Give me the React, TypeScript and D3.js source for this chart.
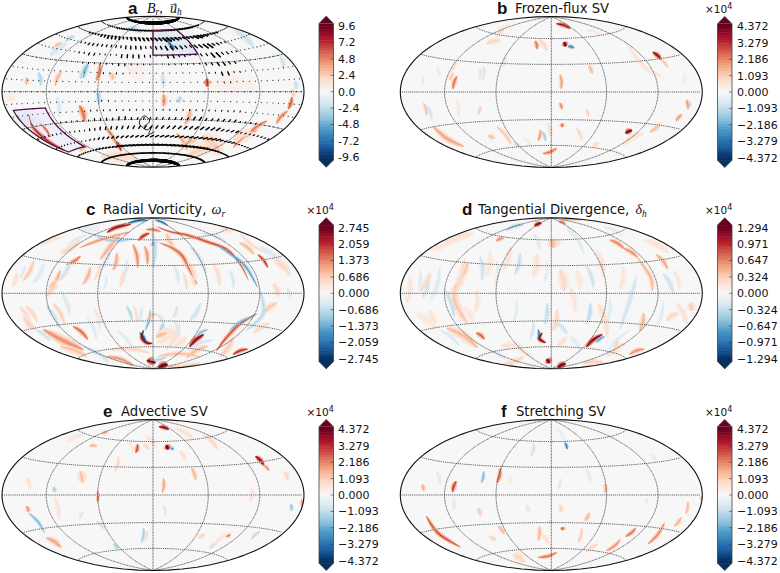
import React from "react";
import * as d3 from "d3";

// Streak tuple: [value (-1..1), width, x1, y1, x2, y2, ...] in digitised map units of each panel
type Streak = number[];

const aStreaks: Streak[] = [
  [-0.12, 24, 462, 100, 530, 125, 585, 158], [-0.82, 4.5, 498, 110, 510, 130, 524, 148], [-0.45, 5, 250, 235, 265, 190], [-0.3, 4, 248, 210, 240, 236],
  [-0.32, 4, 115, 215, 122, 258], [-0.28, 4, 195, 124, 225, 108], [-0.18, 6, 150, 168, 200, 130], [-0.35, 4, 380, 84, 424, 98],
  [-0.22, 6, 700, 88, 762, 142], [-0.22, 4, 840, 168, 852, 208], [-0.25, 4, 885, 242, 888, 268], [-0.1, 16, 50, 120, 120, 88], [-0.1, 14, 680, 70, 760, 110],
  [0.55, 4, 300, 188, 288, 242], [0.3, 6, 335, 218, 337, 240], [0.35, 4, 165, 258, 186, 212], [0.35, 4, 80, 232, 78, 254],
  [0.35, 3, 163, 140, 186, 129], [0.7, 5, 620, 235, 620, 260], [0.45, 5, 490, 282, 490, 320], [0.55, 6, 238, 316, 254, 364],
  [0.4, 5, 572, 326, 554, 374], [0.06, 18, 630, 258, 770, 258], [-0.3, 5, 540, 288, 535, 308], [-0.25, 4, 485, 222, 490, 264],
  [-0.35, 4, 290, 268, 296, 314], [-0.18, 4, 170, 288, 176, 352], [0.06, 14, 380, 200, 430, 240], [-0.08, 14, 40, 345, 130, 385],
  [0.8, 3.5, 85, 342, 100, 382, 140, 420, 198, 454], [0.65, 2.5, 118, 370, 152, 412], [0.62, 4, 876, 290, 864, 328], [0.25, 5, 875, 266, 880, 292],
  [0.75, 4, 346, 424, 364, 454], [0.45, 4, 316, 384, 348, 432], [0.38, 4, 528, 398, 562, 452], [0.24, 14, 606, 406, 664, 464],
  [0.55, 4, 738, 412, 802, 362], [0.45, 4, 698, 444, 772, 390], [0.5, 4, 828, 372, 864, 332], [0.3, 5, 238, 454, 264, 438],
  [0.3, 6, 540, 444, 592, 418], [0.18, 10, 300, 470, 420, 485], [0.24, 10, 560, 472, 644, 438], [0.2, 10, 700, 422, 764, 398], [0.1, 8, 14, 288, 44, 302],
];

const bStreaks: Streak[] = [
  [0.98, 5, 521, 126, 527, 140], [-0.65, 3.5, 533, 139, 553, 144], [0.85, 3.5, 498, 71, 542, 86], [0.92, 4, 788, 156, 814, 180], [0.3, 3, 812, 178, 834, 204],
  [0.55, 4, 436, 122, 441, 148], [0.22, 4, 446, 118, 472, 152], [0.98, 4.5, 706, 400, 727, 391], [0.55, 4, 189, 268, 201, 228], [0.2, 3, 281, 198, 278, 240],
  [-0.18, 3, 270, 203, 268, 242], [0.16, 3, 345, 168, 340, 202], [0.22, 4, 320, 112, 342, 88], [0.22, 5, 288, 131, 332, 121], [0.42, 3.5, 510, 222, 513, 268],
  [0.35, 3.5, 596, 196, 607, 222], [0.48, 3.5, 509, 308, 516, 328], [0.55, 4.5, 515, 370, 516, 382], [0.32, 3, 100, 308, 110, 348], [-0.22, 3, 107, 313, 127, 362],
  [0.4, 5, 128, 378, 170, 415, 224, 441], [0.45, 3, 451, 388, 444, 424], [-0.35, 3, 456, 393, 467, 424], [0.16, 4, 472, 368, 483, 412],
  [0.55, 3.5, 502, 444, 458, 461], [0.45, 3.5, 889, 298, 894, 328], [-0.28, 3, 898, 303, 898, 322], [0.45, 3.5, 858, 364, 877, 343], [0.15, 6, 698, 436, 762, 398],
  [0.28, 3, 271, 318, 264, 344], [0.28, 4, 320, 380, 364, 434], [0.32, 4, 294, 407, 314, 417], [0.22, 4, 608, 442, 627, 429], [0.16, 3, 184, 217, 203, 188],
  [0.16, 3, 100, 228, 96, 252], [0.13, 4, 700, 118, 762, 200, 822, 233], [0.28, 4, 180, 242, 191, 218], [0.22, 3, 559, 383, 576, 422], [0.24, 3, 589, 328, 596, 352], [0.32, 4, 812, 368, 778, 397],
  [0.12, 3, 590, 90, 640, 110], [0.12, 3, 360, 70, 320, 85], [-0.14, 3, 140, 200, 150, 230], [0.14, 3, 200, 300, 205, 350], [0.12, 3, 400, 410, 430, 450], [-0.2, 3, 370, 425, 385, 445], [0.12, 3, 880, 220, 885, 250],
];

const cStreaks: Streak[] = [
  [0.88, 3.5, 320, 128, 350, 112, 394, 103], [-0.75, 3, 384, 101, 444, 91], [-0.65, 2.5, 465, 91, 504, 107], [0.66, 3, 468, 109, 510, 125, 560, 135, 620, 155, 680, 178, 720, 222, 747, 274],
  [-0.55, 3, 648, 164, 730, 222, 774, 294], [0.78, 3.5, 414, 152, 449, 129], [0.55, 3.5, 438, 119, 482, 125], [0.48, 4, 399, 162, 413, 234], [0.45, 4, 434, 168, 442, 224],
  [0.58, 4, 478, 158, 520, 176, 550, 202, 575, 252, 592, 284], [-0.48, 7, 457, 156, 463, 166], [-0.28, 3.5, 455, 118, 460, 234], [0.4, 4, 351, 188, 339, 242], [0.36, 4, 271, 230, 249, 284],
  [0.55, 4, 242, 198, 198, 224], [0.38, 4, 182, 240, 148, 294], [-0.22, 4, 212, 208, 178, 272], [0.28, 4, 102, 210, 68, 274], [-0.16, 4, 132, 218, 98, 282], [0.75, 3, 773, 193, 804, 234],
  [0.34, 4, 718, 158, 764, 194], [0.98, 3.5, 431, 420, 425, 442, 440, 458, 458, 460], [-0.95, 3, 419, 428, 437, 458], [-0.45, 3, 451, 358, 435, 422], [-0.34, 4, 491, 398, 479, 422],
  [0.32, 7, 468, 443, 502, 429], [0.92, 5, 568, 472, 612, 433], [-0.45, 3, 588, 440, 624, 418], [0.65, 3.5, 648, 484, 680, 442, 720, 402, 772, 370], [-0.48, 3, 688, 422, 764, 378],
  [0.98, 6, 440, 512, 467, 519], [1, 6, 475, 533, 504, 524], [0.75, 3.5, 698, 494, 744, 477], [0.46, 7, 128, 418, 190, 452, 252, 480], [0.58, 4, 218, 408, 264, 449], [-0.22, 4, 108, 420, 152, 454],
  [0.45, 4, 318, 499, 402, 527], [0.22, 4, 328, 480, 452, 490], [0.32, 5, 558, 504, 624, 468], [0.25, 4, 158, 338, 194, 404], [-0.22, 4, 138, 348, 178, 414], [-0.08, 14, 238, 115, 300, 125],
  [-0.38, 3.5, 288, 140, 340, 152, 402, 146], [0.45, 3, 238, 174, 300, 150, 392, 125], [-0.22, 4, 602, 338, 568, 394], [-0.22, 3, 531, 348, 519, 384], [0.16, 8, 478, 420, 542, 440],
  [0.28, 5, 788, 372, 832, 338], [0.22, 4, 78, 348, 112, 397], [0.22, 6, 862, 242, 818, 188], [-0.32, 3, 502, 500, 448, 511], [-0.32, 3, 379, 348, 396, 392], [0.16, 6, 702, 122, 658, 108], [-0.28, 4, 780, 298, 790, 370, 738, 422],
  [0.2, 4, 370, 240, 360, 290], [-0.2, 3, 380, 210, 372, 260], [0.2, 4, 300, 220, 285, 270], [-0.14, 3, 320, 260, 310, 300], [0.22, 3, 550, 250, 560, 300], [-0.18, 3, 520, 220, 535, 285], [0.2, 4, 640, 220, 660, 290], [-0.2, 3, 690, 240, 700, 295],
  [0.18, 4, 50, 250, 38, 290], [-0.15, 3, 75, 225, 60, 265], [0.22, 5, 820, 280, 835, 320], [-0.16, 3, 860, 290, 870, 330], [0.2, 4, 60, 350, 90, 400], [0.18, 3, 400, 345, 410, 400], [-0.18, 3, 425, 350, 415, 395], [0.2, 4, 540, 400, 500, 480], [0.16, 6, 560, 440, 520, 470], [-0.16, 3, 350, 420, 400, 480],
  [0.14, 4, 120, 170, 190, 140], [-0.16, 3, 200, 170, 260, 135], [0.2, 3, 800, 190, 720, 130], [-0.18, 3, 600, 130, 680, 155], [0.15, 3, 280, 350, 300, 420], [-0.16, 3, 260, 380, 290, 450], [0.3, 4, 470, 500, 600, 500], [-0.2, 3, 560, 480, 640, 450],
  [0.25, 6, 170, 260, 140, 320], [-0.16, 4, 180, 300, 210, 380], [0.22, 6, 560, 210, 585, 290], [-0.2, 4, 570, 170, 620, 250], [0.3, 5, 520, 170, 500, 130], [0.35, 5, 365, 130, 330, 170, 300, 210], [-0.18, 4, 330, 180, 300, 240], [0.22, 5, 240, 150, 180, 190],
  [-0.16, 5, 780, 170, 840, 220], [0.2, 5, 840, 210, 870, 260], [0.25, 5, 110, 420, 70, 380], [0.3, 6, 180, 470, 260, 500], [-0.2, 4, 250, 470, 330, 520], [0.3, 5, 600, 520, 500, 530], [0.25, 6, 700, 440, 660, 500], [0.2, 5, 760, 430, 810, 400], [0.3, 4, 440, 390, 470, 370], [-0.2, 3, 470, 370, 495, 410], [-0.18, 3, 520, 390, 540, 440], [0.14, 8, 470, 460, 530, 440],
];

const dStreaks: Streak[] = [
  [0.92, 4, 433, 108, 455, 99], [-0.34, 3.5, 348, 121, 402, 104], [0.55, 3, 506, 94, 527, 102], [0.46, 3, 518, 90, 574, 90], [0.46, 4, 318, 153, 342, 144], [0.5, 4, 658, 149, 704, 177],
  [0.46, 4, 700, 175, 744, 203], [0.34, 4, 740, 200, 782, 262, 787, 304], [0.4, 4, 798, 193, 834, 238], [0.98, 3.5, 457, 428, 448, 446, 468, 459], [-0.78, 2.5, 445, 418, 445, 448],
  [0.95, 4, 588, 472, 638, 433], [-0.55, 3, 618, 458, 644, 439], [0.95, 6, 469, 508, 479, 520], [0.98, 5, 503, 533, 528, 521], [0.46, 4, 718, 493, 764, 477], [0.6, 4, 258, 428, 284, 448],
  [0.32, 7, 168, 413, 264, 474], [0.28, 7, 200, 278, 194, 332, 234, 404], [0.28, 5, 234, 218, 204, 274], [-0.25, 4, 164, 298, 193, 384], [-0.22, 4, 116, 258, 99, 324], [-0.25, 4, 391, 188, 374, 254],
  [-0.22, 4, 270, 198, 276, 274], [0.3, 10, 485, 148, 490, 174], [0.2, 8, 510, 238, 522, 304], [0.16, 6, 440, 188, 429, 264], [-0.22, 4, 589, 228, 611, 294], [-0.28, 4, 601, 338, 589, 404],
  [-0.25, 4, 471, 338, 464, 404], [0.22, 5, 501, 358, 489, 424], [0.34, 5, 761, 368, 749, 424], [0.22, 7, 681, 448, 669, 494], [0.16, 5, 859, 338, 891, 404], [0.24, 7, 900, 338, 905, 364],
  [0.22, 5, 828, 393, 864, 369], [0.22, 5, 121, 248, 89, 304], [-0.22, 4, 819, 250, 851, 312], [0.16, 7, 148, 174, 252, 130], [0.22, 5, 402, 500, 338, 523], [0.24, 5, 578, 520, 644, 520],
  [-0.16, 3, 429, 128, 451, 182], [-0.16, 3, 539, 118, 581, 192], [0.16, 5, 361, 168, 339, 242], [0.15, 5, 619, 178, 641, 262], [-0.22, 4, 498, 398, 532, 432], [-0.2, 4, 740, 258, 720, 330, 688, 422],
  [0.14, 5, 60, 260, 50, 340], [-0.15, 3, 90, 240, 85, 300], [0.14, 5, 260, 300, 255, 370], [-0.14, 3, 380, 330, 370, 400], [0.14, 5, 540, 290, 555, 370], [-0.14, 3, 660, 320, 650, 400], [0.14, 4, 850, 240, 870, 300],
  [-0.2, 3, 430, 390, 420, 450], [0.18, 5, 530, 440, 500, 470], [-0.18, 3, 150, 420, 210, 470], [0.14, 6, 140, 400, 120, 360], [-0.15, 3, 650, 490, 720, 420], [0.15, 4, 430, 500, 380, 470], [-0.15, 3, 560, 140, 530, 110],
  [0.2, 6, 225, 205, 180, 330], [-0.15, 4, 150, 230, 122, 330], [0.18, 6, 625, 340, 652, 440], [0.12, 6, 300, 180, 290, 260], [0.14, 5, 700, 230, 690, 300], [-0.12, 3, 320, 210, 315, 290], [0.12, 6, 560, 240, 570, 300], [-0.12, 3, 470, 210, 462, 280], [0.12, 6, 220, 350, 250, 400], [-0.14, 3, 820, 330, 800, 410],
  [0.12, 7, 80, 370, 140, 420], [0.14, 6, 760, 150, 840, 190], [-0.12, 3, 640, 110, 700, 140], [0.12, 6, 180, 150, 120, 180], [-0.14, 4, 540, 440, 570, 480], [0.15, 6, 330, 470, 400, 470], [-0.13, 3, 300, 480, 350, 510], [0.14, 6, 650, 500, 710, 460],
];

const eStreaks: Streak[] = [
  [0.95, 3.5, 476, 125, 507, 134], [1, 5.5, 498, 180, 504, 194], [-0.55, 3.5, 510, 189, 522, 194], [0.95, 4, 766, 213, 792, 242], [0.45, 3, 788, 238, 808, 258], [0.65, 4, 413, 177, 407, 204],
  [0.22, 4, 429, 178, 447, 192], [0.22, 3, 356, 213, 344, 262], [0.34, 4, 574, 248, 587, 287], [0.4, 3.5, 490, 278, 487, 324], [0.28, 7, 239, 258, 247, 294], [0.34, 4, 268, 183, 292, 184],
  [0.34, 3.5, 306, 147, 324, 141], [0.55, 3, 292, 318, 292, 352], [-0.34, 4, 160, 306, 165, 322], [0.16, 4, 164, 338, 177, 404], [0.45, 4, 79, 363, 86, 382], [-0.45, 3, 85, 383, 134, 444],
  [0.4, 5, 138, 458, 184, 488], [-0.36, 3, 431, 428, 424, 474], [0.22, 3, 441, 438, 434, 468], [0.55, 4, 678, 456, 692, 448], [0.22, 4, 593, 459, 617, 449], [-0.22, 3, 628, 492, 652, 473],
  [-0.28, 3, 753, 464, 782, 438], [-0.38, 3.5, 872, 356, 874, 378], [0.45, 3.5, 905, 343, 905, 368], [-0.34, 3, 339, 476, 353, 494], [0.22, 4, 608, 148, 654, 194], [0.16, 4, 518, 128, 584, 164],
  [-0.16, 3, 239, 404, 251, 378], [-0.22, 3, 288, 408, 314, 434], [0.16, 4, 79, 278, 91, 312], [0.22, 4, 854, 258, 863, 287], [0.16, 4, 756, 308, 751, 352], [0.16, 4, 539, 198, 556, 227], [-0.16, 3, 489, 358, 496, 392],
  [0.14, 4, 435, 150, 470, 190], [0.12, 3, 380, 160, 400, 210], [0.12, 5, 200, 170, 250, 150], [0.12, 4, 640, 480, 700, 440],
];

const fStreaks: Streak[] = [
  [-0.68, 3, 524, 172, 532, 193], [-0.22, 3, 431, 173, 424, 214], [0.56, 4, 331, 248, 321, 294], [-0.46, 3, 281, 258, 274, 294], [0.7, 4, 188, 322, 199, 288], [0.38, 4, 96, 298, 101, 318],
  [0.66, 3.5, 108, 392, 145, 445, 214, 488], [0.34, 4, 645, 296, 645, 324], [-0.14, 3, 511, 278, 504, 314], [0.12, 4, 360, 276, 362, 294], [0.28, 4, 264, 368, 271, 394], [0.34, 4, 324, 423, 343, 448],
  [0.22, 4, 298, 454, 318, 467], [0.34, 4, 448, 423, 444, 468], [0.6, 5, 516, 426, 518, 436], [0.22, 4, 480, 406, 480, 416], [0.34, 4, 598, 383, 584, 408], [0.28, 3, 576, 428, 564, 474],
  [0.55, 3.5, 502, 502, 443, 517], [0.56, 3.5, 738, 428, 706, 455], [0.46, 3.5, 692, 463, 648, 498], [0.5, 3.5, 824, 413, 773, 478], [0.34, 4, 874, 396, 853, 424], [0.34, 3, 894, 348, 887, 388],
  [0.34, 4, 934, 333, 934, 347], [0.22, 4, 588, 502, 624, 478], [0.22, 7, 368, 508, 404, 532], [-0.12, 3, 770, 338, 768, 357], [-0.16, 3, 190, 338, 191, 374], [-0.14, 3, 589, 248, 601, 294],
  [-0.14, 3, 139, 258, 151, 302], [-0.12, 3, 778, 208, 802, 232], [0.16, 4, 409, 358, 416, 382], [0.22, 4, 509, 358, 515, 382], [-0.12, 3, 498, 128, 527, 172], [0.16, 4, 453, 448, 477, 477],
];

// Surface flow: one row of speed per latitude, one column per 15° of longitude from -180
const flowLats = [80, 70, 60, 50, 40, 30, 20, 10, 0, -10, -20, -30, -40, -50, -60, -70, -80];
const flowSpeed = [
  [3, 3, 3, 3, 4, 4, 5, 6, 7, 8, 9, 9, 9, 9, 9, 8, 7, 6, 5, 4, 4, 3, 3, 3],
  [0, 0, 0, 1, 1, 2, 2, 2, 2, 2, 2, 2, 2, 2, 2, 2, 2, 2, 2, 1, 1, 0, 0, 0],
  [0, 0, 0, 1, 1, 2, 3, 3, 2, 3, 3, 3, 3, 4, 3, 2, 2, 3, 2, 1, 1, 0, 0, 0],
  [0, 0, 0, 0, 1, 2, 2, 2, 2, 3, 3, 2, 3, 4, 3, 2, 3, 4, 2, 1, 0, 0, 0, 0],
  [0, 0, 0, 0, 0, 1, 2, 1, 1, 3, 3, 2, 1, 3, 2, 1, 2, 4, 2, 1, 0, 0, 0, 0],
  [0, 0, 0, 0, 0, 0, 1, 1, 1, 2, 1, 1, 0, 1, 1, 1, 2, 3, 2, 0, 0, 0, 0, 0],
  [0, 0, 0, 0, 0, 0, 0, 0, 1, 1, 0, 0, 0, 0, 0, 0, 1, 3, 1, 0, 0, 0, 0, 0],
  [0, 0, 0, 0, 0, 0, 0, 0, 0, 0, 0, 0, 0, 0, 0, 0, 0, 1, 0, 0, 0, 0, 0, 0],
  [0, 0, 0, 0, 0, 0, 0, 0, 0, 0, 0, 0, 0, 0, 0, 0, 0, 0, 0, 0, 0, 0, 0, 0],
  [0, 0, 0, 0, 0, 0, 0, 0, 1, 0, 0, 0, 0, 0, 0, 0, 0, 0, 0, 0, 0, 0, 0, 0],
  [0, 0, 0, 0, 0, 0, 0, 1, 1, 1, 1, 1, 1, 1, 1, 1, 1, 1, 1, 0, 0, 0, 0, 0],
  [0, 0, 0, 0, 1, 1, 1, 2, 2, 3, 2, 2, 2, 2, 2, 3, 2, 2, 2, 1, 1, 0, 0, 0],
  [1, 1, 1, 1, 1, 1, 2, 3, 3, 3, 3, 3, 3, 3, 3, 3, 3, 3, 2, 2, 1, 1, 1, 1],
  [1, 1, 1, 1, 1, 2, 3, 3, 3, 3, 3, 3, 3, 3, 3, 3, 3, 3, 3, 2, 2, 1, 1, 1],
  [1, 1, 1, 1, 2, 2, 2, 3, 3, 3, 3, 3, 3, 3, 3, 3, 3, 3, 3, 2, 2, 1, 1, 1],
  [2, 2, 2, 2, 2, 2, 2, 2, 2, 2, 2, 2, 2, 2, 2, 2, 2, 2, 2, 2, 2, 2, 2, 2],
  [5, 5, 5, 5, 5, 6, 6, 7, 8, 9, 9, 9, 9, 9, 9, 9, 8, 7, 6, 6, 5, 5, 5, 5],
];
const flowAngle = [0, 20, 55, 72, 80, 80, 85, 85, 85, 85, 80, 70, 55, 30, 14, 3, 0];
const flowLonStep = 7.5;
const swirlLine = [[-12, -38], [-4, -32], [-10, -26], [-17, -34], [-8, -42], [-2, -38], [-6, -47], [2, -44]];

const boxNorth = { lon: [0, 60], lat: [40, 70] };
const boxSouth = { lon: [-170, -125], lat: [-55, -15] };

const gridLons = [-120, -60, 0, 60, 120];
const gridLats = [-60, -30, 0, 30, 60];

const ticksA = ["9.6", "7.2", "4.8", "2.4", "0.0", "-2.4", "-4.8", "-7.2", "-9.6"];
const ticksSV = ["4.372", "3.279", "2.186", "1.093", "0.000", "−1.093", "−2.186", "−3.279", "−4.372"];
const ticksC = ["2.745", "2.059", "1.373", "0.686", "0.000", "−0.686", "−1.373", "−2.059", "−2.745"];
const ticksD = ["1.294", "0.971", "0.647", "0.324", "0.000", "−0.324", "−0.647", "−0.971", "−1.294"];

const panels = [
  { id: "a", cx: 153, cy: 91.7, dx: 459, dy: 275, streaks: aStreaks, ticks: ticksA, exp: false, barX: 319, labelX: 338 },
  { id: "b", cx: 551.3, cy: 92, dx: 484, dy: 276, streaks: bStreaks, ticks: ticksSV, exp: true, barX: 717.5, labelX: 737 },
  { id: "c", cx: 153, cy: 293.3, dx: 459, dy: 310, streaks: cStreaks, ticks: ticksC, exp: true, barX: 319, labelX: 338 },
  { id: "d", cx: 551.3, cy: 293.3, dx: 484, dy: 310, streaks: dStreaks, ticks: ticksD, exp: true, barX: 717.5, labelX: 737 },
  { id: "e", cx: 153, cy: 495, dx: 459, dy: 330, streaks: eStreaks, ticks: ticksSV, exp: true, barX: 319, labelX: 338 },
  { id: "f", cx: 551.3, cy: 495, dx: 484, dy: 330, streaks: fStreaks, ticks: ticksSV, exp: true, barX: 717.5, labelX: 737 },
];

const RX = 151;
const RY = 75.5;
const DIGIT_RX = 453;
const DIGIT_RY = 226.5;
const colorStops = d3.schemeRdBu[11];
const color = d3
  .scaleLinear<string>()
  .domain(colorStops.map((_, i) => 1 - (i * 2) / 10))
  .range(colorStops as string[])
  .clamp(true);

function hammerRaw(lam: number, phi: number): [number, number] {
  const k = Math.sqrt(1 + Math.cos(phi) * Math.cos(lam / 2));
  return [(2 * Math.SQRT2 * Math.cos(phi) * Math.sin(lam / 2)) / k, (Math.SQRT2 * Math.sin(phi)) / k];
}

const lineGen = d3.line<[number, number]>();
const smooth = d3.line<[number, number]>().curve(d3.curveCatmullRom);

// Centre line of a streak, a Catmull-Rom through its points
function sampleCurve(pts: [number, number][]): [number, number][] {
  let ctrl = pts;
  if (pts.length === 2) {
    const [[x0, y0], [x1, y1]] = pts;
    ctrl = [pts[0], [(x0 + x1) / 2 + (y1 - y0) * 0.07, (y0 + y1) / 2 - (x1 - x0) * 0.07], pts[1]];
  }
  const out: [number, number][] = [];
  for (let i = 0; i < ctrl.length - 1; i++) {
    const p0 = ctrl[Math.max(0, i - 1)];
    const p1 = ctrl[i];
    const p2 = ctrl[i + 1];
    const p3 = ctrl[Math.min(ctrl.length - 1, i + 2)];
    for (let k = 0; k < 8; k++) {
      const t = k / 8;
      const f = (a: number, b: number, c: number, e: number) =>
        0.5 * (2 * b + (c - a) * t + (2 * a - 5 * b + 4 * c - e) * t * t + (3 * b - a - 3 * c + e) * t * t * t);
      out.push([f(p0[0], p1[0], p2[0], p3[0]), f(p0[1], p1[1], p2[1], p3[1])]);
    }
  }
  out.push(ctrl[ctrl.length - 1]);
  return out;
}

// Tapered outline around the centre line
function lens(pts: [number, number][], width: number): string {
  const n = pts.length;
  const left: [number, number][] = [];
  const right: [number, number][] = [];
  pts.forEach((p, i) => {
    const a = pts[Math.max(0, i - 1)];
    const b = pts[Math.min(n - 1, i + 1)];
    const dx = b[0] - a[0];
    const dy = b[1] - a[1];
    const len = Math.hypot(dx, dy) || 1;
    const hw = (width / 2) * Math.pow(Math.sin((Math.PI * i) / (n - 1)), 0.7);
    left.push([p[0] - (dy / len) * hw, p[1] + (dx / len) * hw]);
    right.push([p[0] + (dy / len) * hw, p[1] - (dx / len) * hw]);
  });
  return (lineGen([...left, ...right.reverse()]) as string) + "Z";
}

function Title({ id, cy }: { id: string; cy: number }) {
  const base = cy - 79;
  const sans = { fontFamily: "DejaVu Sans", fontSize: 13.2, fill: "#111" };
  const bold = { fontFamily: "Liberation Sans", fontWeight: 700, fontSize: 17, fill: "#111" };
  const math = { fontFamily: "Liberation Serif", fontStyle: "italic", fontSize: 14, fill: "#111" };
  const sub = { fontFamily: "Liberation Serif", fontStyle: "italic", fontSize: 9.5, fill: "#111" };
  if (id === "a")
    return (
      <g>
        <text x={128} y={base + 1} {...bold}>a</text>
        <text x={147} y={base} {...math}>
          B<tspan dy={2.5} {...sub}>r</tspan><tspan dy={-2.5}>,</tspan>
        </text>
        <text x={170} y={base} {...math}>u</text>
        <path d={`M170.5,${base - 8}H176.5M174.5,${base - 9.5}L176.5,${base - 8}L174.5,${base - 6.5}`} fill="none" stroke="#111" strokeWidth={0.7} />
        <text x={177} y={base + 2.5} {...sub}>h</text>
      </g>
    );
  if (id === "b")
    return (
      <g>
        <text x={497} y={base + 1} {...bold}>b</text>
        <text x={515} y={base} {...sans}>Frozen-flux SV</text>
      </g>
    );
  if (id === "c")
    return (
      <g>
        <text x={86} y={base + 1} {...bold}>c</text>
        <text x={103} y={base} {...sans}>Radial Vorticity,</text>
        <text x={211.5} y={base} {...math}>ω<tspan dy={2.5} {...sub}>r</tspan></text>
      </g>
    );
  if (id === "d")
    return (
      <g>
        <text x={462} y={base + 1} {...bold}>d</text>
        <text x={478} y={base} {...sans}>Tangential Divergence,</text>
        <text x={635.5} y={base} {...math}>δ<tspan dy={2.5} {...sub}>h</tspan></text>
      </g>
    );
  if (id === "e")
    return (
      <g>
        <text x={103} y={base + 1} {...bold}>e</text>
        <text x={121} y={base} {...sans}>Advective SV</text>
      </g>
    );
  return (
    <g>
      <text x={501} y={base + 1} {...bold}>f</text>
      <text x={516} y={base} {...sans}>Stretching SV</text>
    </g>
  );
}

function Colorbar({ barX, cy, ticks, exp, labelX }: any) {
  const w = 14.5;
  const y = d3.scaleLinear().domain([1, -1]).range([cy - 65.6, cy + 65.6]);
  const bodyTop = y(1.04);
  const bodyBottom = y(-1.04);
  const levels = d3.range(49).map((i) => 1.04 - (i * 2.08) / 49);
  const tipTop = cy - 75.6;
  const tipBottom = cy + 75.6;
  const tv = d3.scaleLinear().domain([0, ticks.length - 1]).range([1, -1]);
  return (
    <g>
      {levels.map((v, i) => (
        <rect key={i} x={barX} y={y(v)} width={w} height={y(v - 2.08 / 49) - y(v) + 0.5} fill={color(v - 1.04 / 49)} />
      ))}
      <path d={`M${barX},${bodyTop}L${barX + w / 2},${tipTop}L${barX + w},${bodyTop}Z`} fill={color(1)} />
      <path d={`M${barX},${bodyBottom}L${barX + w / 2},${tipBottom}L${barX + w},${bodyBottom}Z`} fill={color(-1)} />
      <path
        d={`M${barX},${bodyTop}L${barX + w / 2},${tipTop}L${barX + w},${bodyTop}V${bodyBottom}L${barX + w / 2},${tipBottom}L${barX},${bodyBottom}Z`}
        fill="none" stroke="#444" strokeWidth={0.8}
      />
      {ticks.map((t: string, i: number) => (
        <g key={t}>
          <line x1={barX + w - 3} x2={barX + w} y1={y(tv(i))} y2={y(tv(i))} stroke="#333" strokeWidth={0.6} />
          <text x={labelX} y={y(tv(i))} dy="0.36em" fontFamily="DejaVu Sans" fontSize={11} fill="#111">{t}</text>
        </g>
      ))}
      {exp && (
        <text x={barX - 12.5} y={cy - 79} fontFamily="DejaVu Sans" fontSize={10.5} fill="#111">
          ×10<tspan dy={-4} fontSize={8}>4</tspan>
        </text>
      )}
    </g>
  );
}

function Quiver({ proj }: { proj: d3.GeoProjection }) {
  const p = (lon: number, lat: number) => proj([Math.max(-179.5, Math.min(179.5, lon)), lat]) as [number, number];
  const items: { d: string; w: number }[] = [];
  const dots: [number, number][] = [];
  flowLats.forEach((lat, r) => {
    const ang = (flowAngle[r] * Math.PI) / 180;
    for (let lon = -180 + flowLonStep / 2; lon < 180; lon += flowLonStep) {
      const s = flowSpeed[r][Math.floor((lon + 180) / 15)];
      if (s === 0) {
        dots.push(p(lon, lat));
        continue;
      }
      const L = 1.1 * s;
      const du = (L * Math.cos(ang)) / Math.max(0.14, Math.cos((lat * Math.PI) / 180));
      const dv = L * Math.sin(ang) * (lat > 0 ? -1 : 1);
      const pts = [0, 0.5, 1].map((t) => p(lon + du * t, Math.max(-88, Math.min(88, lat + dv * t))));
      items.push({ d: lineGen(pts) as string, w: 0.85 + 0.2 * s + (Math.abs(lat) >= 60 ? 0.4 : 0) });
    }
  });
  return (
    <g>
      {dots.map(([x, y], i) => (
        <circle key={i} cx={x} cy={y} r={0.6} fill="#222" />
      ))}
      {items.map((it, i) => (
        <path key={i} d={it.d} fill="none" stroke="#050505" strokeWidth={it.w} strokeLinecap="round" />
      ))}
      <path d={smooth(swirlLine.map(([lo, la]) => p(lo, la))) as string} fill="none" stroke="#0a0a0a" strokeWidth={0.9} />
    </g>
  );
}

function boxPath(proj: d3.GeoProjection, box: { lon: number[]; lat: number[] }) {
  const [l0, l1] = box.lon;
  const [a0, a1] = box.lat;
  const n = 24;
  const pts: [number, number][] = [];
  d3.range(n + 1).forEach((i) => pts.push(proj([l0 + ((l1 - l0) * i) / n, a1]) as [number, number]));
  d3.range(n + 1).forEach((i) => pts.push(proj([l1, a1 + ((a0 - a1) * i) / n]) as [number, number]));
  d3.range(n + 1).forEach((i) => pts.push(proj([l1 + ((l0 - l1) * i) / n, a0]) as [number, number]));
  d3.range(n + 1).forEach((i) => pts.push(proj([l0, a0 + ((a1 - a0) * i) / n]) as [number, number]));
  return (lineGen(pts) as string) + "Z";
}

function Panel(pn: (typeof panels)[number]) {
  const { id, cx, cy, dx, dy, streaks } = pn;
  const proj = d3
    .geoProjection(hammerRaw as any)
    .scale(RX / (2 * Math.SQRT2))
    .translate([cx, cy])
    .precision(0.1);
  const geo = d3.geoPath(proj);
  const x = d3.scaleLinear().domain([dx - DIGIT_RX, dx + DIGIT_RX]).range([cx - RX, cx + RX]);
  const y = d3.scaleLinear().domain([dy - DIGIT_RY, dy + DIGIT_RY]).range([cy - RY, cy + RY]);
  const sphere = geo({ type: "Sphere" } as any) as string;
  const meridians = gridLons.map((lon) => lineGen(d3.range(-90, 90.1, 2).map((lat) => proj([lon, lat]) as [number, number])) as string);
  const parallels = gridLats.map((lat) => lineGen(d3.range(-179.9, 180, 4).map((lon) => proj([lon, lat]) as [number, number])) as string);
  const parsed = streaks.map((s) => {
    const pts: [number, number][] = [];
    for (let i = 2; i < s.length; i += 2) pts.push([x(s[i]), y(s[i + 1])]);
    const centre = sampleCurve(pts);
    return {
      v: s[0],
      outer: lens(centre, s[1] * 1.5),
      mid: lens(centre, s[1] * 0.85),
      core: lens(centre, s[1] * 0.36),
    };
  });
  return (
    <g>
      <clipPath id={`clip-${id}`}>
        <path d={sphere} />
      </clipPath>
      <path d={sphere} fill={color(0)} />
      <g clipPath={`url(#clip-${id})`}>
        <g filter="url(#soft)">
          {parsed.map((s, i) => <path key={`o${i}`} d={s.outer} fill={color(s.v * 0.38)} />)}
          {parsed.map((s, i) => <path key={`m${i}`} d={s.mid} fill={color(s.v * 0.7)} />)}
          {parsed.map((s, i) => <path key={`c${i}`} d={s.core} fill={color(s.v)} />)}
        </g>
        {id === "a" && (
          <>
            <path d={boxPath(proj, boxNorth)} fill="rgba(190,170,255,0.06)" />
            <path d={boxPath(proj, boxSouth)} fill="rgba(190,170,255,0.12)" />
          </>
        )}
        {parallels.map((d, i) => (
          <path key={`w${i}`} d={d} fill="none" stroke="#fff" strokeWidth={1.8} opacity={0.5} />
        ))}
        {parallels.map((d, i) => (
          <path key={`p${i}`} d={d} fill="none" stroke="#222" strokeWidth={0.95} strokeDasharray="1 0.9" opacity={0.85} />
        ))}
        {meridians.map((d, i) => (
          <path key={`m${i}`} d={d} fill="none" stroke="#333" strokeWidth={1} strokeDasharray="1 0.5" opacity={0.72} />
        ))}
        {id === "a" && <Quiver proj={proj} />}
      </g>
      {id === "a" && (
        <>
          <path d={boxPath(proj, boxNorth)} fill="none" stroke="#4b1040" strokeWidth={1.3} />
          <path d={boxPath(proj, boxSouth)} fill="none" stroke="#4b1040" strokeWidth={1.3} />
        </>
      )}
      <path d={sphere} fill="none" stroke="#111" strokeWidth={1.1} />
      <Title id={id} cy={cy} />
      <Colorbar barX={pn.barX} cy={cy} ticks={pn.ticks} exp={pn.exp} labelX={pn.labelX} />
    </g>
  );
}

export default function App() {
  return (
    <svg width={780} height={573} viewBox="0 0 780 573" style={{ position: "absolute", left: 0, top: 0, background: "#fff" }}>
      <defs>
        <filter id="soft" x="-5%" y="-5%" width="110%" height="110%">
          <feGaussianBlur stdDeviation={0.65} />
        </filter>
      </defs>
      {panels.map((p) => (
        <Panel key={p.id} {...p} />
      ))}
    </svg>
  );
}
